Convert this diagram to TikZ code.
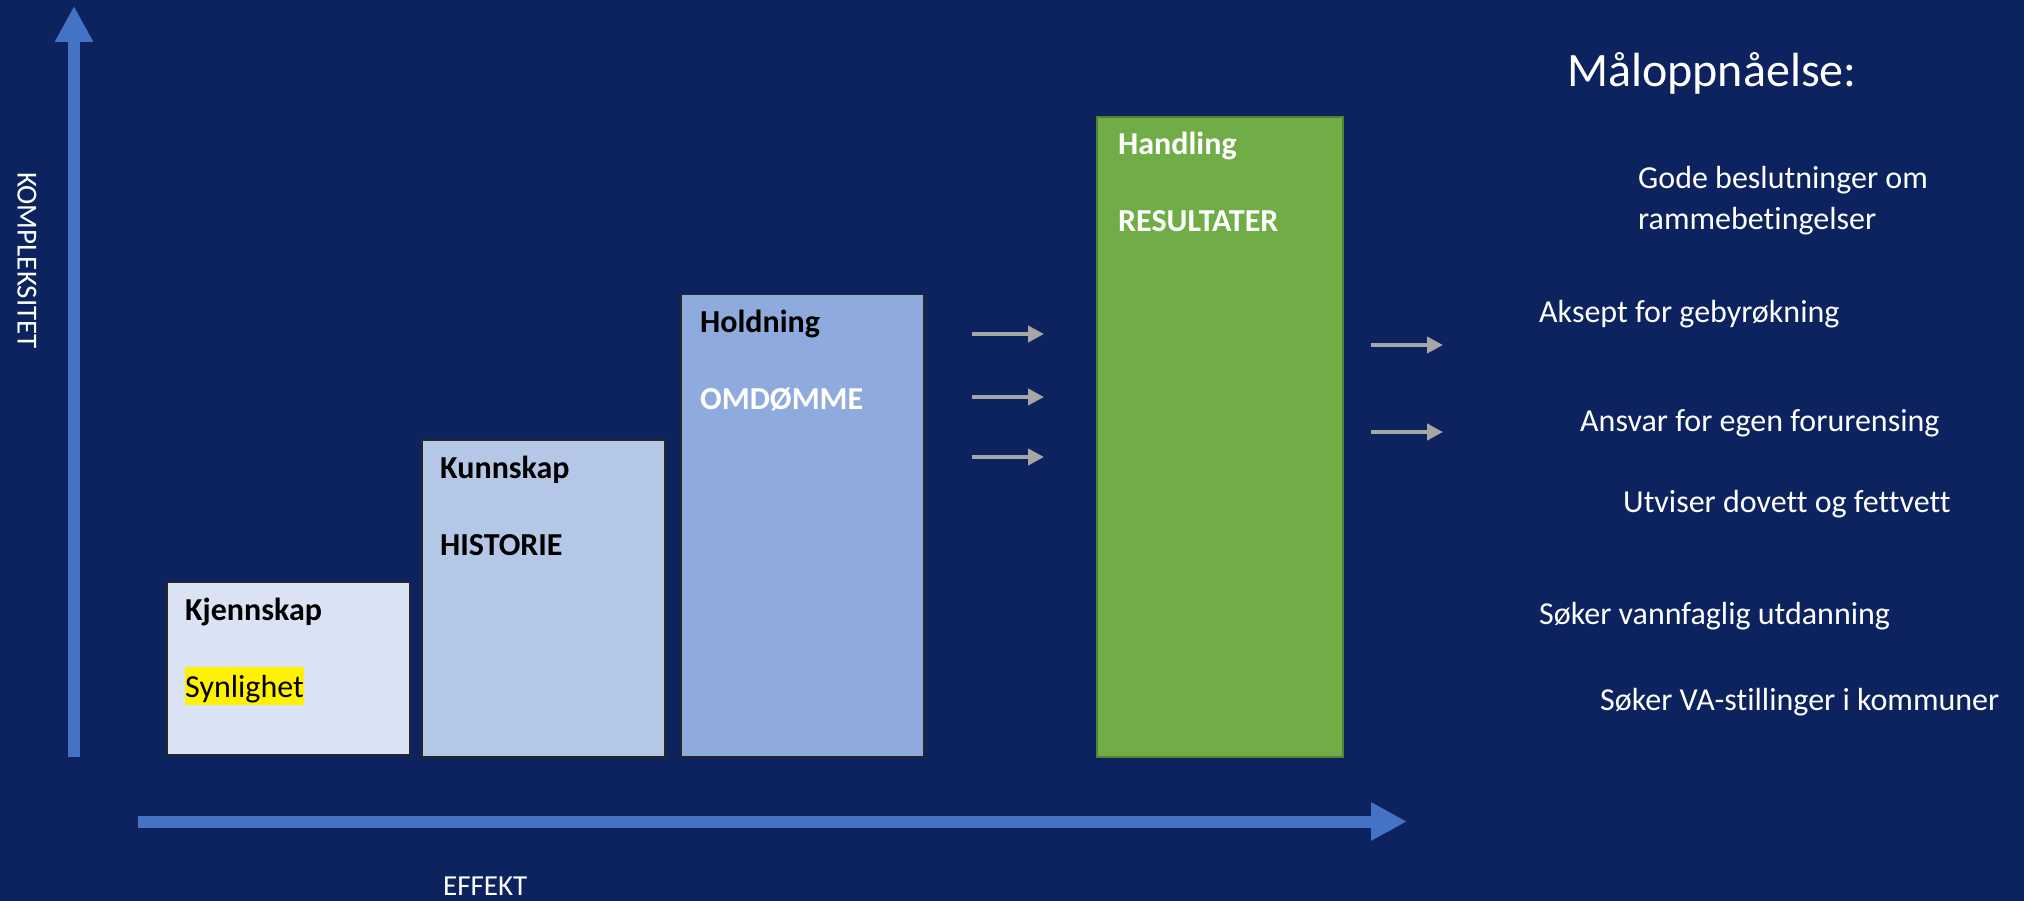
\documentclass[tikz,border=0pt]{standalone}
\usepackage{fontspec}
\setmainfont{Carlito}[Ligatures={NoCommon}]
\usetikzlibrary{arrows.meta}
\definecolor{bg}{HTML}{0C2360}
\definecolor{axisblue}{HTML}{4472C4}
\definecolor{fillA}{HTML}{DAE3F3}
\definecolor{fillB}{HTML}{B4C7E7}
\definecolor{fillC}{HTML}{8FAADC}
\definecolor{fillD}{HTML}{70AD47}
\definecolor{borderD}{HTML}{548235}
\definecolor{arrgray}{HTML}{A6A6A6}
\tikzset{
  stagebox/.style={draw=black!85, line width=1.5pt, anchor=north west, inner sep=0pt,
    minimum width=243pt, minimum height=174pt},
  lbl/.style={anchor=base west, inner sep=0pt, font=\fontsize{32}{38}\selectfont},
  rtxt/.style={anchor=base west, inner sep=0pt, text=white, font=\fontsize{32}{38}\selectfont},
  axisarrow/.style={draw=axisblue, line width=12pt, -{Triangle[length=36pt,width=36pt]}},
  grayarrow/.style={draw=arrgray, line width=4pt, -{Triangle[length=16pt,width=16pt]}},
}
\begin{document}
\begin{tikzpicture}[x=1pt,y=-1pt]
\useasboundingbox (0,0) rectangle (2024,901);
\fill[bg] (0,0) rectangle (2024,901);

% axes
\coordinate (vbot) at (74,757);
\coordinate (vtop) at (74,6);
\coordinate (hleft) at (138,821.5);
\coordinate (hright) at (1407,821.5);
\draw[axisarrow] (vbot) -- (vtop);
\draw[axisarrow] (hleft) -- (hright);
\node[text=white, rotate=-90, inner sep=0pt, font=\fontsize{29}{34}\selectfont] (ylab) at (27,260.5) {KOMPLEKSITET};
\node[text=white, anchor=base west, inner sep=0pt, font=\fontsize{29}{34}\selectfont] (xlab) at (443,895) {EFFEKT};

% boxes
\node[stagebox, fill=fillA, minimum height=173pt] (b1) at (166,581) {};
\node[stagebox, fill=fillB, minimum height=317pt] (b2) at (421,439) {};
\node[stagebox, fill=fillC, minimum height=462pt] (b3) at (680,294) {};
\node[stagebox, fill=fillD, draw=borderD, line width=2pt, minimum width=246pt, minimum height=640pt] (b4) at (1096,116) {};

\node[lbl, font=\fontsize{32}{38}\selectfont\bfseries] (t1) at (185,620) {Kjennskap};
\node[lbl, fill=yellow, text height=30pt, text depth=8pt] (t1b) at (185,697) {Synlighet};
\node[lbl, font=\fontsize{32}{38}\selectfont\bfseries] (t2) at (440,478) {Kunnskap};
\node[lbl, font=\fontsize{32}{38}\selectfont\bfseries] (t2b) at (440,555) {HISTORIE};
\node[lbl, font=\fontsize{32}{38}\selectfont\bfseries] (t3) at (700,333) {Holdning};
\node[lbl, text=white, font=\fontsize{32}{38}\selectfont\bfseries] (t3b) at (700,409) {OMDØMME};
\node[lbl, text=white, font=\fontsize{32}{38}\selectfont\bfseries] (t4) at (1118,155) {Handling};
\node[lbl, text=white, font=\fontsize{32}{38}\selectfont\bfseries] (t4b) at (1118,232) {RESULTATER};

% gray arrows
\coordinate (g1s) at (972,334); \coordinate (g1e) at (1044,334);
\coordinate (g2s) at (972,397); \coordinate (g2e) at (1044,397);
\coordinate (g3s) at (972,457); \coordinate (g3e) at (1044,457);
\coordinate (g4s) at (1371,345); \coordinate (g4e) at (1443,345);
\coordinate (g5s) at (1371,432); \coordinate (g5e) at (1443,432);
\draw[grayarrow] (g1s) -- (g1e);
\draw[grayarrow] (g2s) -- (g2e);
\draw[grayarrow] (g3s) -- (g3e);
\draw[grayarrow] (g4s) -- (g4e);
\draw[grayarrow] (g5s) -- (g5e);

% right side
\node[rtxt, font=\fontsize{48}{58}\selectfont] (head) at (1567,87) {Måloppnåelse:};
\node[rtxt] (r1) at (1638,189) {Gode beslutninger om};
\node[rtxt] (r1b) at (1638,230) {rammebetingelser};
\node[rtxt] (r2) at (1539,323) {Aksept for gebyrøkning};
\node[rtxt] (r3) at (1580,431) {Ansvar for egen forurensing};
\node[rtxt] (r4) at (1623,512) {Utviser dovett og fettvett};
\node[rtxt] (r5) at (1539,624) {Søker vannfaglig utdanning};
\node[rtxt] (r6) at (1600,710) {Søker VA-stillinger i kommuner};
\end{tikzpicture}
\end{document}
